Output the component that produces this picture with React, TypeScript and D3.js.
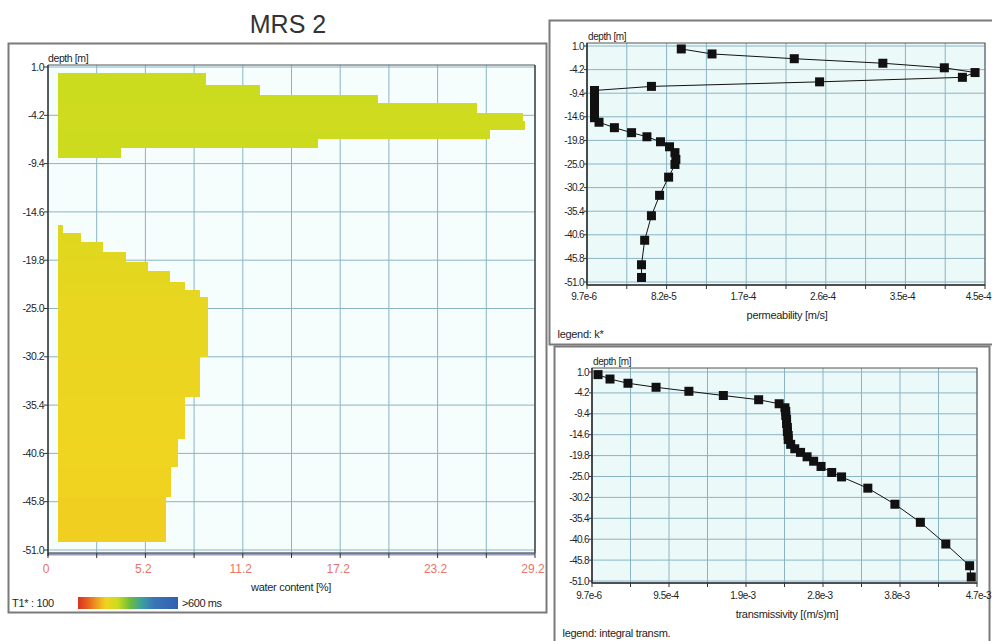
import React from "react";
import * as d3 from "d3";

// depth axis shared by the three panels
const depthTicks = [1.0, -4.2, -9.4, -14.6, -19.8, -25.0, -30.2, -35.4, -40.6, -45.8, -51.0];

const waterTickLabels = ["0", "5.2", "11.2", "17.2", "23.2", "29.2"];
const permTickLabels = ["9.7e-6", "8.2e-5", "1.7e-4", "2.6e-4", "3.5e-4", "4.5e-4"];
const transTickLabels = ["9.7e-6", "9.5e-4", "1.9e-3", "2.8e-3", "3.8e-3", "4.7e-3"];

// water content layers (depth in m, value in %)
const layerTop = [
  0.35, -0.94, -2.0, -2.87, -3.95, -4.85, -5.77, -6.74, -7.71,
  -16.0, -16.85, -17.8, -18.9, -19.97, -21.0, -22.1, -23.0, -23.8, -30.2, -34.5, -39.1, -42.1, -45.3,
];
const layerBottom = [
  -0.94, -2.0, -2.87, -3.95, -4.85, -5.77, -6.74, -7.71, -8.78,
  -16.85, -17.8, -18.9, -19.97, -21.0, -22.1, -23.0, -23.8, -30.2, -34.5, -39.1, -42.1, -45.3, -50.1,
];
const waterContent = [
  9.5, 12.7, 19.8, 25.7, 28.5, 28.6, 26.5, 16.2, 4.4,
  0.9, 2.0, 3.3, 4.7, 6.0, 7.3, 8.2, 9.1, 9.6, 9.1, 8.2, 7.8, 7.4, 7.1,
];
const layerT1 = [
  295, 295, 292, 290, 290, 290, 292, 292, 295,
  266, 265, 264, 262, 260, 258, 256, 254, 252, 248, 244, 241, 238, 236,
];
const waterBase = 0.6;

// permeability / transmissivity profiles
const profileDepth = [
  0.35, -0.75, -1.8, -2.8, -3.8, -4.85, -5.9, -6.9, -7.9, -8.8, -9.8, -10.8, -11.8, -12.8, -13.8,
  -14.8, -15.8, -17.0, -18.1, -19.0, -20.1, -21.2, -22.5, -24.0, -25.1, -27.9, -31.9, -36.4, -41.8,
  -47.2, -50.0,
];
const permeability = [
  1.14e-4, 1.48e-4, 2.39e-4, 3.37e-4, 4.05e-4, 4.39e-4, 4.25e-4, 2.67e-4, 8.1e-5,
  1.8e-5, 1.8e-5, 1.8e-5, 1.8e-5, 1.8e-5, 1.8e-5, 1.8e-5, 2.3e-5,
  4.0e-5, 5.9e-5, 7.6e-5, 9.1e-5, 1.01e-4, 1.07e-4, 1.08e-4, 1.07e-4, 1.0e-4, 9.0e-5, 8.1e-5,
  7.35e-5, 7.0e-5, 7.0e-5,
];
const transmissivity = [
  8.3e-5, 2.29e-4, 4.48e-4, 7.9e-4, 1.19e-3, 1.61e-3, 2.04e-3, 2.29e-3, 2.36e-3,
  2.37e-3, 2.37e-3, 2.38e-3, 2.38e-3, 2.39e-3, 2.39e-3, 2.4e-3, 2.4e-3,
  2.43e-3, 2.48e-3, 2.55e-3, 2.63e-3, 2.71e-3, 2.8e-3, 2.93e-3, 3.05e-3, 3.37e-3, 3.7e-3, 4.01e-3,
  4.32e-3, 4.61e-3, 4.63e-3,
];

const t1Stops = [100, 150, 200, 240, 300, 360, 420, 480, 600];
const t1Colors = ["#d8341e", "#e8621e", "#f0a420", "#f0d420", "#c8dc1e", "#6cbc3c", "#3aa0a0", "#3a74b8", "#3060b0"];

const FONT = "'Liberation Sans', Arial, sans-serif";
const GRID = "#8ab4c4";
const INK = "#1e1e1e";

const t1Color = d3.scaleLinear<string>().domain(t1Stops).range(t1Colors);

const fmtDepth = (d: number) => d.toFixed(1);

const WaterPanel = () => {
  const left = 48, right = 535, top = 65, bottom = 553;
  const x = d3.scaleLinear().domain([0, 29.2]).range([left, right]);
  const y = d3.scaleLinear().domain([1, -51]).range([67, 550]);
  const grid = d3.range(11).map((i) => (29.2 * i) / 10);

  return (
    <g fontFamily={FONT}>
      <rect x={8.5} y={43.5} width={538} height={569} fill="#fff" stroke="#7a7a7a" strokeWidth={2} />
      <text x={288} y={33} fontSize={25} fill="#333" textAnchor="middle">MRS 2</text>
      <rect x={left} y={top} width={right - left} height={bottom - top} fill="#f6fdfd" />
      {grid.map((g, i) => (
        <line key={"gx" + i} x1={x(g)} x2={x(g)} y1={top} y2={bottom} stroke={GRID} strokeWidth={1} />
      ))}
      {depthTicks.map((d, i) => (
        <line key={"gy" + i} x1={left} x2={right} y1={y(d)} y2={y(d)} stroke={GRID} strokeWidth={1} />
      ))}
      {waterContent.map((v, i) => (
        <rect
          key={"l" + i}
          x={x(waterBase)}
          y={y(layerTop[i])}
          width={x(v) - x(waterBase)}
          height={y(layerBottom[i]) - y(layerTop[i])}
          fill={t1Color(layerT1[i])}
          shapeRendering="crispEdges"
        />
      ))}
      <line x1={left} x2={right} y1={top} y2={top} stroke="#555" strokeWidth={1} />
      <line x1={right} x2={right} y1={top} y2={bottom} stroke="#444" strokeWidth={1.5} />
      <line x1={left} x2={right} y1={bottom + 1} y2={bottom + 1} stroke="#9a9ac0" strokeWidth={3} />
      <line x1={left} x2={right} y1={bottom} y2={bottom} stroke="#555" strokeWidth={1} />
      <line x1={left} x2={left} y1={top} y2={bottom + 3} stroke="#333" strokeWidth={1.5} />
      {depthTicks.map((d, i) => (
        <g key={"ty" + i}>
          <line x1={left - 4} x2={left} y1={y(d)} y2={y(d)} stroke="#333" />
          <text x={left - 4} y={y(d)} dy="0.35em" fontSize={10.5} textAnchor="end" fill={INK} letterSpacing={-0.5}>
            {fmtDepth(d)}
          </text>
        </g>
      ))}
      {grid.map((g, i) => (
        <line key={"tx" + i} x1={x(g)} x2={x(g)} y1={bottom} y2={bottom + 5} stroke="#333" />
      ))}
      {waterTickLabels.map((t, i) => (
        <text key={"xl" + i} x={x(grid[i * 2]) - 2} y={573} fontSize={12} textAnchor="middle" fill="#e87468">
          {t}
        </text>
      ))}
      <text x={left} y={62} fontSize={10.5} fill={INK} letterSpacing={-0.4}>depth [m]</text>
      <text x={291} y={591} fontSize={11} textAnchor="middle" fill={INK} letterSpacing={-0.3}>water content [%]</text>
      <defs>
        <linearGradient id="t1grad" x1="0" x2="1" y1="0" y2="0">
          {t1Stops.map((s, i) => (
            <stop key={i} offset={(s - 100) / 500} stopColor={t1Colors[i]} />
          ))}
        </linearGradient>
      </defs>
      <text x={12} y={607} fontSize={11} fill={INK} letterSpacing={-0.3}>T1* : 100</text>
      <rect x={78} y={597} width={100} height={12} fill="url(#t1grad)" />
      <text x={182} y={607} fontSize={11} fill={INK} letterSpacing={-0.4}>&gt;600 ms</text>
    </g>
  );
};

type ProfileProps = {
  frame: [number, number, number, number];
  plot: [number, number, number, number];
  yRange: [number, number];
  xMax: number;
  tickLabels: string[];
  values: number[];
  title: string;
  legend: string;
  labelY: number;
  titleY: number;
  legendY: number;
};

const ProfilePanel = (p: ProfileProps) => {
  const [left, top, right, bottom] = p.plot;
  const xMin = 9.7e-6;
  const x = d3.scaleLinear().domain([xMin, p.xMax]).range([left, right]);
  const y = d3.scaleLinear().domain([1, -51]).range(p.yRange);
  const grid = d3.range(11).map((i) => xMin + ((p.xMax - xMin) * i) / 10);
  const pts = p.values.map((v, i) => [x(v), y(profileDepth[i])] as [number, number]);
  const line = d3.line()(pts) || "";
  const [fx, fy, fw, fh] = p.frame;
  const n = p.tickLabels.length;

  return (
    <g fontFamily={FONT}>
      <rect x={fx} y={fy} width={fw} height={fh} fill="#fff" stroke="#7a7a7a" strokeWidth={2} />
      <rect x={left} y={top} width={right - left} height={bottom - top} fill="#ecf9f9" />
      {grid.map((g, i) => (
        <line key={"gx" + i} x1={x(g)} x2={x(g)} y1={top} y2={bottom} stroke={GRID} strokeWidth={1} />
      ))}
      {depthTicks.map((d, i) => (
        <line key={"gy" + i} x1={left} x2={right} y1={y(d)} y2={y(d)} stroke={GRID} strokeWidth={1} />
      ))}
      <rect x={left} y={top} width={right - left} height={bottom - top} fill="none" stroke="#555" strokeWidth={1} />
      <line x1={left} x2={right} y1={bottom} y2={bottom} stroke="#333" strokeWidth={1.5} />
      <line x1={left} x2={left} y1={top} y2={bottom} stroke="#333" strokeWidth={1.5} />
      <path d={line} fill="none" stroke="#111" strokeWidth={1} />
      {pts.map(([px, py], i) => (
        <rect key={"m" + i} x={px - 4.5} y={py - 4.5} width={9} height={9} fill="#111" />
      ))}
      {depthTicks.map((d, i) => (
        <g key={"ty" + i}>
          <line x1={left - 3} x2={left} y1={y(d)} y2={y(d)} stroke="#333" />
          <text x={left - 3} y={y(d)} dy="0.35em" fontSize={10} textAnchor="end" fill={INK} letterSpacing={-0.6}>
            {fmtDepth(d)}
          </text>
        </g>
      ))}
      {grid.map((g, i) => (
        <line key={"tx" + i} x1={x(g)} x2={x(g)} y1={bottom} y2={bottom + 4} stroke="#333" />
      ))}
      {p.tickLabels.map((t, i) => (
        <text
          key={"xl" + i}
          x={i === n - 1 ? Math.min(x(grid[i * 2]) + 14, 991) : x(grid[i * 2]) - 3}
          y={p.labelY}
          fontSize={10}
          textAnchor={i === n - 1 ? "end" : "middle"}
          fill={INK}
          letterSpacing={-0.5}
        >
          {t}
        </text>
      ))}
      <text x={left + 1} y={top - 3} fontSize={10} fill={INK} letterSpacing={-0.4}>depth [m]</text>
      <text x={787} y={p.titleY} fontSize={11} textAnchor="middle" fill={INK} letterSpacing={-0.3}>{p.title}</text>
      <text x={fx + 8} y={p.legendY} fontSize={11} fill={INK} letterSpacing={-0.3}>{p.legend}</text>
    </g>
  );
};

const App = () => (
  <div style={{ position: "fixed", left: 0, top: 0 }}>
    <svg width={992} height={641} style={{ display: "block", background: "#fff" }}>
      <WaterPanel />
      <ProfilePanel
        frame={[549.5, 20.5, 450, 324]}
        plot={[587, 43, 985, 285]}
        yRange={[46, 282]}
        xMax={4.5e-4}
        tickLabels={permTickLabels}
        values={permeability}
        title="permeability [m/s]"
        legend="legend: k*"
        labelY={300}
        titleY={319}
        legendY={338}
      />
      <ProfilePanel
        frame={[554.5, 346.5, 435, 310]}
        plot={[592, 368, 977, 583]}
        yRange={[372, 581]}
        xMax={4.7e-3}
        tickLabels={transTickLabels}
        values={transmissivity}
        title="transmissivity [(m/s)m]"
        legend="legend: integral transm."
        labelY={599}
        titleY={618}
        legendY={637}
      />
    </svg>
  </div>
);

export default App;
